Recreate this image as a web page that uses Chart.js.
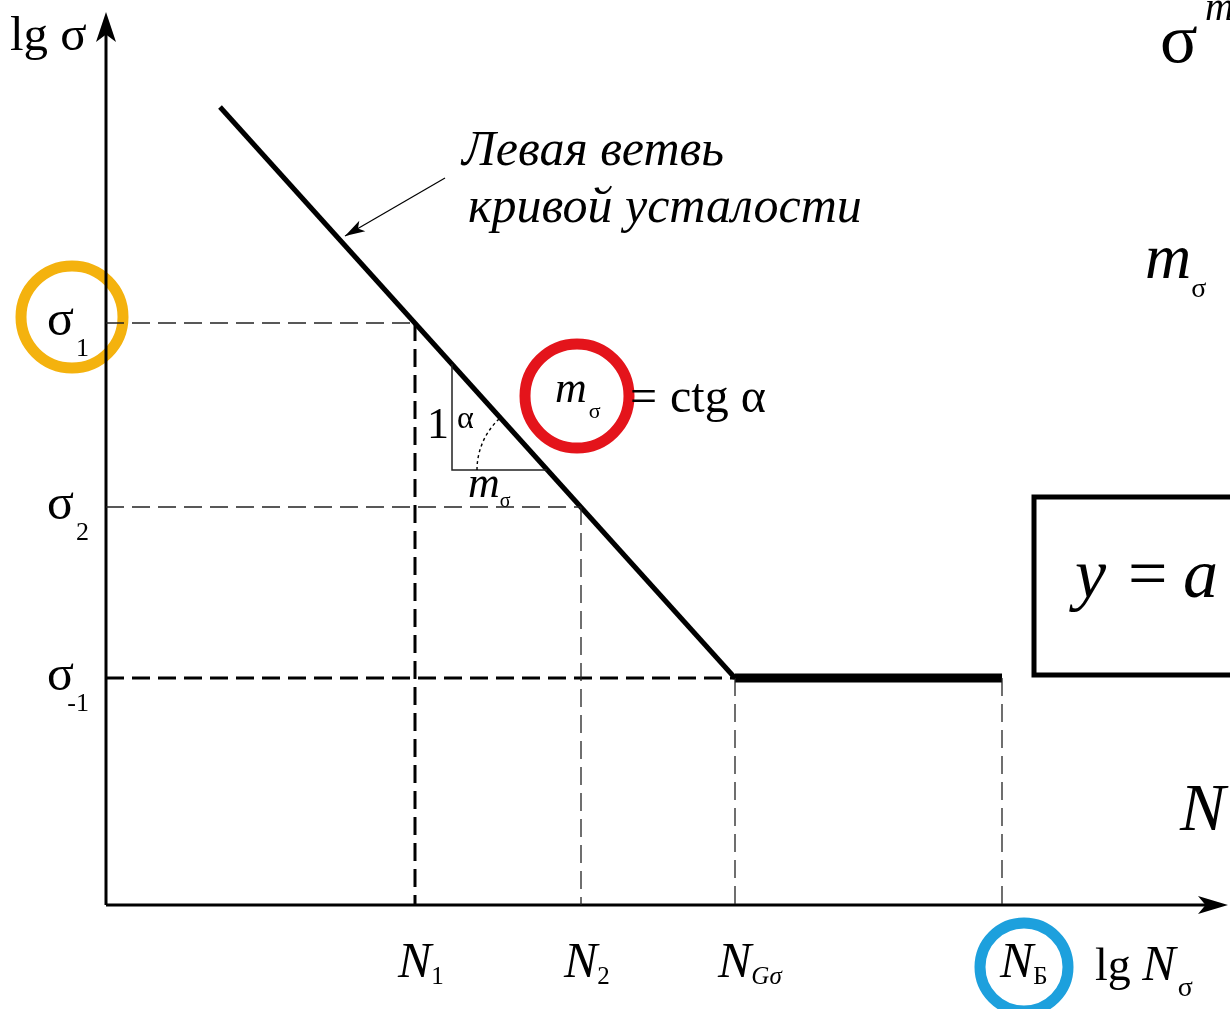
<!DOCTYPE html>
<html lang="ru">

<head>
    <meta charset="UTF-8">
    <title>Кривая усталости</title>
    <style>
        * {
            box-sizing: border-box;
            margin: 0;
            padding: 0;
        }

        html,
        body {
            width: 1230px;
            height: 1009px;
            background: #fff;
            overflow: hidden;
        }

        .chart-box {
            position: relative;
            width: 1230px;
            height: 1009px;
        }
    </style>
</head>

<body>
    <div class="chart-box">
        <canvas id="fatigue"></canvas>
    </div>

    <script src="https://cdn.jsdelivr.net/npm/chart.js@4.4.0/dist/chart.umd.min.js"></script>
    <script>
        // visible window in (lg N, lg sigma) units, and where the axis arrows end
        const xMin = -1.06, xMax = 11.24;
        const yMin = -1.04, yMax = 9.05;
        const xTip = 11.22, yTip = 8.93;

        // levels on the N axis
        const nSubs = ['1', '2', 'Gσ', 'Б'];
        const nValues = [3.09, 4.75, 6.29, 8.96];

        // levels on the sigma axis
        const sSubs = ['1', '2', '-1'];
        const sValues = [5.82, 3.98, 2.27];

        // fatigue curve: left branch and the horizontal part
        const leftBranch = [{ x: 1.14, y: 7.98 }, { x: 6.29, y: 2.27 }];
        const plateau = [{ x: 6.29, y: 2.27 }, { x: 8.96, y: 2.27 }];

        // small slope triangle under the left branch
        const slopeTri = [{ x: 3.46, y: 5.41 }, { x: 3.46, y: 4.35 }, { x: 4.41, y: 4.35 }];

        const thin = { borderColor: '#222', borderWidth: 1.3, borderDash: [18, 8] };
        const thick = { borderColor: '#000', borderWidth: 3, borderDash: [18, 8] };

        function seg(points, style) {
            return Object.assign({
                data: points,
                showLine: true,
                pointRadius: 0,
                fill: false,
                clip: false,
                borderCapStyle: 'butt'
            }, style);
        }

        const datasets = [];
        // dashed guides from the axes to the curve
        datasets.push(seg([{ x: 0, y: sValues[0] }, { x: nValues[0], y: sValues[0] }], thin));
        datasets.push(seg([{ x: nValues[0], y: sValues[0] }, { x: nValues[0], y: 0 }], thick));
        datasets.push(seg([{ x: 0, y: sValues[1] }, { x: nValues[1], y: sValues[1] }], thin));
        datasets.push(seg([{ x: nValues[1], y: sValues[1] }, { x: nValues[1], y: 0 }], thin));
        datasets.push(seg([{ x: 0, y: sValues[2] }, { x: nValues[2], y: sValues[2] }], thick));
        datasets.push(seg([{ x: nValues[2], y: sValues[2] }, { x: nValues[2], y: 0 }], thin));
        datasets.push(seg([{ x: nValues[3], y: sValues[2] }, { x: nValues[3], y: 0 }], thin));
        // triangle
        datasets.push(seg(slopeTri, { borderColor: '#222', borderWidth: 1.5 }));
        // axes
        datasets.push(seg([{ x: 0, y: 0 }, { x: xTip - 0.1, y: 0 }], { borderColor: '#000', borderWidth: 3 }));
        datasets.push(seg([{ x: 0, y: 0 }, { x: 0, y: yTip - 0.1 }], { borderColor: '#000', borderWidth: 3 }));
        // the curve
        datasets.push(seg(leftBranch, { borderColor: '#000', borderWidth: 5 }));
        datasets.push(seg(plateau, { borderColor: '#000', borderWidth: 9 }));
        // highlight rings
        const ring = (pt, color, r) => ({
            data: [pt], pointRadius: r, pointHoverRadius: r, pointBorderWidth: 11,
            pointBorderColor: color, pointBackgroundColor: 'rgba(0,0,0,0)', clip: false
        });
        datasets.push(ring({ x: -0.34, y: 5.88 }, '#F4B20E', 51));
        datasets.push(ring({ x: 4.71, y: 5.09 }, '#E4141B', 52));
        datasets.push(ring({ x: 9.18, y: -0.62 }, '#1DA0DD', 44));

        const serif = '"Liberation Serif", "DejaVu Serif", serif';

        function txt(ctx, s, x, y, size, italic) {
            ctx.font = (italic ? 'italic ' : '') + size + 'px ' + serif;
            ctx.fillText(s, x, y);
            return x + ctx.measureText(s).width;
        }

        function arrowHead(ctx, tx, ty, ang, len, half) {
            ctx.save();
            ctx.translate(tx, ty);
            ctx.rotate(ang);
            ctx.beginPath();
            ctx.moveTo(0, 0);
            ctx.lineTo(-len, -half);
            ctx.lineTo(-len * 0.75, 0);
            ctx.lineTo(-len, half);
            ctx.closePath();
            ctx.fill();
            ctx.restore();
        }

        const labels = {
            id: 'labels',
            afterDatasetsDraw(chart) {
                const ctx = chart.ctx;
                const X = v => chart.scales.x.getPixelForValue(v);
                const Y = v => chart.scales.y.getPixelForValue(v);
                ctx.save();
                ctx.fillStyle = '#000';
                ctx.strokeStyle = '#000';
                ctx.textBaseline = 'alphabetic';

                // axis arrows
                arrowHead(ctx, X(xTip), Y(0), 0, 30, 9);
                arrowHead(ctx, X(0), Y(yTip), -Math.PI / 2, 30, 10);

                // axis titles
                txt(ctx, 'lg σ', X(-0.96), Y(8.55), 49, false);
                let e = txt(ctx, 'lg ', X(9.89), Y(-0.75), 46, false);
                e = txt(ctx, 'N', e, Y(-0.75), 50, true);
                txt(ctx, 'σ', e + 2, Y(-0.75) + 16, 28, false);

                // sigma levels
                sValues.forEach((v, i) => {
                    const y = Y(v);
                    txt(ctx, 'σ', X(-0.59), y + 12, 50, false);
                    ctx.textAlign = 'right';
                    txt(ctx, sSubs[i], X(-0.17), y + 33, 26, false);
                    ctx.textAlign = 'left';
                });

                // N levels
                nValues.forEach((v, i) => {
                    const x = X(v) - (i === 3 ? 2 : 17);
                    const y = Y(-0.72);
                    const end = txt(ctx, 'N', x, y, 50, true);
                    txt(ctx, nSubs[i], end, y + 7, 25, i === 2);
                });

                // slope triangle marks
                txt(ctx, '1', X(3.21), Y(4.67), 44, false);
                txt(ctx, 'α', X(3.51), Y(4.77), 32, false);
                let me = txt(ctx, 'm', X(3.62), Y(4.08), 44, true);
                txt(ctx, 'σ', me, Y(4.08) + 10, 20, false);

                // angle arc at the lower vertex
                ctx.setLineDash([3, 3]);
                ctx.lineWidth = 1.4;
                ctx.beginPath();
                ctx.arc(X(4.41), Y(4.35), 70, Math.PI, Math.PI + Math.atan(1.109), false);
                ctx.stroke();
                ctx.setLineDash([]);

                // m_sigma = ctg alpha
                me = txt(ctx, 'm', X(4.49), Y(5.03), 44, true);
                txt(ctx, 'σ', me + 2, Y(5.03) + 16, 22, false);
                txt(ctx, '=', X(5.24), Y(4.93), 48, false);
                txt(ctx, 'ctg α', X(5.64), Y(4.93), 48, false);

                // branch caption and pointer
                txt(ctx, 'Левая ветвь', X(3.56), Y(7.40), 50, true);
                txt(ctx, 'кривой усталости', X(3.62), Y(6.83), 50, true);
                const ax0 = X(3.39), ay0 = Y(7.27), ax1 = X(2.39), ay1 = Y(6.69);
                ctx.lineWidth = 1.2;
                ctx.beginPath();
                ctx.moveTo(ax0, ay0);
                ctx.lineTo(ax1, ay1);
                ctx.stroke();
                arrowHead(ctx, ax1, ay1, Math.atan2(ay1 - ay0, ax1 - ax0), 20, 6);

                // formula fragments on the right
                txt(ctx, 'σ', X(10.54), Y(8.43), 70, false);
                txt(ctx, 'm', X(10.99), Y(8.85), 40, true);
                me = txt(ctx, 'm', X(10.39), Y(6.27), 64, true);
                txt(ctx, 'σ', me, Y(6.08), 28, false);
                ctx.lineWidth = 5;
                ctx.strokeRect(X(9.28), Y(4.08), X(11.5) - X(9.28), Y(2.30) - Y(4.08));
                txt(ctx, 'y', X(9.69), Y(3.08), 70, true);
                txt(ctx, '=', X(10.22), Y(3.08), 70, false);
                txt(ctx, 'a', X(10.77), Y(3.08), 70, true);
                txt(ctx, 'N', X(10.74), Y(0.75), 68, true);

                ctx.restore();
            }
        };

        const config = {
            type: 'scatter',
            data: { datasets: datasets },
            options: {
                responsive: true,
                maintainAspectRatio: false,
                animation: false,
                layout: { autoPadding: false, padding: 0 },
                plugins: { legend: { display: false }, tooltip: { enabled: false } },
                scales: {
                    x: { type: 'linear', min: xMin, max: xMax, display: false },
                    y: { type: 'linear', min: yMin, max: yMax, display: false }
                }
            },
            plugins: [labels]
        };
        let fatigueChart = new Chart(document.getElementById('fatigue'), config);
    </script>
</body>

</html>
